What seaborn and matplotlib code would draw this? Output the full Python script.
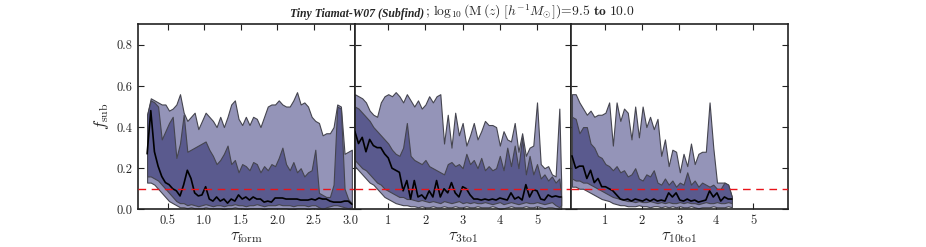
import numpy as np
import pandas as pd
import seaborn as sns
import matplotlib.pyplot as plt

# Percentile bands of f_sub vs the three formation-time measures
# (outer band = lo2..hi2, inner band = lo1..hi1, black line = median)

x_form = [0.22, 0.27, 0.32, 0.37, 0.42, 0.47, 0.52, 0.57, 0.62, 0.67,
          0.72, 0.77, 0.82, 0.87, 0.92, 0.97, 1.02, 1.07, 1.12, 1.17,
          1.22, 1.27, 1.32, 1.37, 1.42, 1.47, 1.52, 1.57, 1.62, 1.67,
          1.72, 1.77, 1.82, 1.87, 1.92, 1.97, 2.02, 2.07, 2.12, 2.17,
          2.22, 2.27, 2.32, 2.37, 2.42, 2.47, 2.52, 2.57, 2.62, 2.67,
          2.72, 2.77, 2.82, 2.87, 2.92, 2.97, 3.02]
form_hi2 = [0.46, 0.54, 0.53, 0.52, 0.51, 0.51, 0.48, 0.49, 0.51, 0.56,
            0.47, 0.43, 0.45, 0.47, 0.39, 0.43, 0.47, 0.45, 0.43, 0.40,
            0.45, 0.40, 0.45, 0.51, 0.53, 0.44, 0.41, 0.45, 0.41, 0.45,
            0.44, 0.40, 0.45, 0.50, 0.51, 0.51, 0.53, 0.51, 0.50, 0.50,
            0.53, 0.57, 0.51, 0.52, 0.50, 0.45, 0.43, 0.42, 0.36, 0.37,
            0.37, 0.40, 0.51, 0.50, 0.27, 0.28, 0.29]
form_hi1 = [0.46, 0.53, 0.52, 0.50, 0.34, 0.38, 0.42, 0.45, 0.25, 0.32,
            0.46, 0.28, 0.29, 0.30, 0.31, 0.32, 0.33, 0.29, 0.26, 0.22,
            0.24, 0.27, 0.31, 0.22, 0.24, 0.18, 0.22, 0.21, 0.19, 0.23,
            0.22, 0.18, 0.21, 0.19, 0.22, 0.21, 0.25, 0.30, 0.22, 0.19,
            0.23, 0.18, 0.20, 0.16, 0.18, 0.19, 0.29, 0.08, 0.07, 0.06,
            0.06, 0.12, 0.50, 0.49, 0.10, 0.05, 0.03]
form_med = [0.27, 0.48, 0.28, 0.21, 0.16, 0.13, 0.12, 0.10, 0.09, 0.065,
            0.12, 0.19, 0.15, 0.08, 0.065, 0.07, 0.11, 0.05, 0.04, 0.06,
            0.04, 0.05, 0.03, 0.05, 0.04, 0.07, 0.05, 0.06, 0.045, 0.06,
            0.05, 0.05, 0.035, 0.04, 0.035, 0.055, 0.055, 0.055, 0.05, 0.05,
            0.05, 0.05, 0.045, 0.045, 0.045, 0.05, 0.045, 0.055, 0.05, 0.05,
            0.04, 0.035, 0.035, 0.035, 0.04, 0.04, 0.025]
form_lo1 = [0.16, 0.16, 0.15, 0.14, 0.12, 0.10, 0.08, 0.06, 0.04, 0.03,
            0.03, 0.02, 0.025, 0.02, 0.015, 0.02, 0.025, 0.02, 0.015, 0.02,
            0.02, 0.015, 0.02, 0.02, 0.025, 0.02, 0.02, 0.015, 0.02, 0.02,
            0.025, 0.02, 0.015, 0.02, 0.02, 0.02, 0.025, 0.02, 0.02, 0.02,
            0.015, 0.02, 0.02, 0.02, 0.015, 0.02, 0.02, 0.01, 0.0, 0.01,
            0.015, 0.02, 0.02, 0.015, 0.01, 0.005, 0.01]
form_lo2 = [0.13, 0.13, 0.12, 0.10, 0.08, 0.06, 0.04, 0.03, 0.02, 0.01,
            0.01, 0.005, 0.01, 0.005, 0.005, 0.005, 0.01, 0.005, 0.005, 0.005,
            0.005, 0.0, 0.005, 0.005, 0.01, 0.005, 0.005, 0.0, 0.005, 0.005,
            0.005, 0.005, 0.0, 0.005, 0.005, 0.005, 0.005, 0.005, 0.005, 0.0,
            0.0, 0.005, 0.005, 0.005, 0.0, 0.005, 0.005, 0.0, 0.0, 0.0,
            0.005, 0.005, 0.005, 0.005, 0.0, 0.0, 0.0]

x_3to1 = [0.1, 0.2, 0.3, 0.4, 0.5, 0.6, 0.7, 0.8, 0.9, 1.0,
          1.1, 1.2, 1.3, 1.4, 1.5, 1.6, 1.7, 1.8, 1.9, 2.0,
          2.1, 2.2, 2.3, 2.4, 2.5, 2.6, 2.7, 2.8, 2.9, 3.0,
          3.1, 3.2, 3.3, 3.4, 3.5, 3.6, 3.7, 3.8, 3.9, 4.0,
          4.1, 4.2, 4.3, 4.4, 4.5, 4.6, 4.7, 4.8, 4.9, 5.0,
          5.1, 5.2, 5.3, 5.4, 5.5, 5.6, 5.65]
c3_hi2 = [0.56, 0.55, 0.54, 0.52, 0.48, 0.46, 0.45, 0.52, 0.55, 0.56,
          0.55, 0.57, 0.55, 0.52, 0.56, 0.53, 0.50, 0.53, 0.49, 0.51,
          0.55, 0.52, 0.55, 0.56, 0.32, 0.46, 0.30, 0.47, 0.36, 0.42,
          0.31, 0.36, 0.42, 0.34, 0.38, 0.43, 0.41, 0.41, 0.40, 0.31,
          0.38, 0.34, 0.33, 0.42, 0.28, 0.37, 0.26, 0.30, 0.31, 0.52,
          0.22, 0.20, 0.21, 0.17, 0.16, 0.49, 0.13]
c3_hi1 = [0.50, 0.49, 0.47, 0.45, 0.43, 0.40, 0.38, 0.36, 0.34, 0.32,
          0.29, 0.27, 0.26, 0.30, 0.42, 0.26, 0.24, 0.23, 0.22, 0.24,
          0.21, 0.20, 0.19, 0.18, 0.17, 0.22, 0.23, 0.21, 0.22, 0.20,
          0.27, 0.22, 0.24, 0.20, 0.25, 0.19, 0.21, 0.19, 0.20, 0.26,
          0.19, 0.30, 0.21, 0.31, 0.20, 0.35, 0.17, 0.26, 0.17, 0.22,
          0.15, 0.17, 0.14, 0.16, 0.13, 0.15, 0.06]
c3_med = [0.38, 0.32, 0.35, 0.28, 0.34, 0.31, 0.30, 0.30, 0.27, 0.25,
          0.20, 0.19, 0.18, 0.09, 0.14, 0.05, 0.14, 0.06, 0.07, 0.05,
          0.09, 0.06, 0.14, 0.06, 0.10, 0.08, 0.13, 0.08, 0.06, 0.11,
          0.10, 0.07, 0.05, 0.05, 0.045, 0.05, 0.045, 0.05, 0.045, 0.055,
          0.05, 0.045, 0.08, 0.05, 0.06, 0.045, 0.12, 0.06, 0.095, 0.09,
          0.05, 0.045, 0.07, 0.06, 0.065, 0.06, 0.06]
c3_lo1 = [0.24, 0.22, 0.20, 0.19, 0.17, 0.15, 0.13, 0.12, 0.10, 0.09,
          0.08, 0.07, 0.06, 0.06, 0.05, 0.05, 0.045, 0.04, 0.045, 0.04,
          0.035, 0.04, 0.035, 0.03, 0.04, 0.035, 0.03, 0.035, 0.04, 0.03,
          0.035, 0.03, 0.035, 0.03, 0.03, 0.035, 0.03, 0.025, 0.03, 0.035,
          0.025, 0.03, 0.035, 0.03, 0.025, 0.03, 0.035, 0.03, 0.03, 0.035,
          0.03, 0.025, 0.03, 0.035, 0.02, 0.01, 0.02]
c3_lo2 = [0.21, 0.19, 0.17, 0.15, 0.13, 0.12, 0.10, 0.08, 0.06, 0.05,
          0.04, 0.03, 0.025, 0.02, 0.02, 0.015, 0.015, 0.01, 0.015, 0.01,
          0.01, 0.015, 0.01, 0.01, 0.015, 0.01, 0.01, 0.015, 0.01, 0.01,
          0.015, 0.01, 0.01, 0.015, 0.01, 0.01, 0.01, 0.015, 0.01, 0.0,
          0.005, 0.01, 0.015, 0.01, 0.01, 0.01, 0.015, 0.01, 0.01, 0.015,
          0.01, 0.005, 0.01, 0.01, 0.005, 0.0, 0.0]

x_10to1 = [0.12, 0.22, 0.32, 0.42, 0.52, 0.62, 0.72, 0.82, 0.92, 1.02,
           1.12, 1.22, 1.32, 1.42, 1.52, 1.62, 1.72, 1.82, 1.92, 2.02,
           2.12, 2.22, 2.32, 2.42, 2.52, 2.62, 2.72, 2.82, 2.92, 3.02,
           3.12, 3.22, 3.32, 3.42, 3.52, 3.62, 3.72, 3.82, 3.92, 4.02,
           4.12, 4.22, 4.32, 4.42]
c10_hi2 = [0.56, 0.56, 0.52, 0.49, 0.46, 0.48, 0.45, 0.46, 0.46, 0.47,
           0.52, 0.31, 0.52, 0.43, 0.49, 0.47, 0.34, 0.50, 0.35, 0.50,
           0.40, 0.45, 0.39, 0.44, 0.26, 0.34, 0.21, 0.29, 0.28, 0.18,
           0.27, 0.21, 0.32, 0.22, 0.27, 0.28, 0.28, 0.52, 0.30, 0.13,
           0.13, 0.13, 0.12, 0.06]
c10_hi1 = [0.45, 0.44, 0.37, 0.40, 0.40, 0.32, 0.30, 0.26, 0.25, 0.22,
           0.21, 0.19, 0.21, 0.18, 0.19, 0.16, 0.17, 0.20, 0.15, 0.14,
           0.17, 0.16, 0.19, 0.13, 0.12, 0.15, 0.12, 0.14, 0.11, 0.13,
           0.12, 0.18, 0.12, 0.14, 0.11, 0.13, 0.12, 0.11, 0.12, 0.10,
           0.10, 0.13, 0.12, 0.06]
c10_med = [0.26, 0.20, 0.21, 0.21, 0.15, 0.19, 0.13, 0.15, 0.11, 0.11,
           0.10, 0.09, 0.07, 0.05, 0.045, 0.05, 0.04, 0.05, 0.045, 0.04,
           0.05, 0.04, 0.05, 0.04, 0.045, 0.04, 0.08, 0.06, 0.08, 0.045,
           0.04, 0.05, 0.04, 0.045, 0.035, 0.04, 0.045, 0.09, 0.06, 0.08,
           0.04, 0.06, 0.05, 0.05]
c10_lo1 = [0.15, 0.14, 0.14, 0.13, 0.13, 0.12, 0.11, 0.10, 0.09, 0.08,
           0.07, 0.06, 0.055, 0.05, 0.045, 0.04, 0.04, 0.035, 0.04, 0.035,
           0.035, 0.04, 0.035, 0.03, 0.035, 0.03, 0.035, 0.03, 0.03, 0.035,
           0.03, 0.035, 0.03, 0.03, 0.025, 0.03, 0.035, 0.03, 0.03, 0.035,
           0.03, 0.03, 0.035, 0.03]
c10_lo2 = [0.11, 0.11, 0.10, 0.10, 0.09, 0.08, 0.07, 0.06, 0.05, 0.045,
           0.04, 0.03, 0.025, 0.02, 0.02, 0.015, 0.015, 0.015, 0.02, 0.015,
           0.015, 0.01, 0.015, 0.015, 0.01, 0.015, 0.01, 0.015, 0.01, 0.015,
           0.01, 0.01, 0.015, 0.01, 0.005, 0.01, 0.01, 0.01, 0.015, 0.01,
           0.01, 0.01, 0.015, 0.01]

f_threshold = 0.1
x_labels = [r'$\tau_{\rm form}$', r'$\tau_{\rm 3to1}$', r'$\tau_{\rm 10to1}$']
x_ticks = [[0.5, 1.0, 1.5, 2.0, 2.5, 3.0], [1, 2, 3, 4, 5], [1, 2, 3, 4, 5]]
x_limits = [(0.1, 3.06), (0.1, 5.92), (0.1, 5.92)]
y_ticks = [0.0, 0.2, 0.4, 0.6, 0.8]

# Old-school latex-ish look
sns.set_style('ticks')
plt.rcParams['font.family'] = ['cmr10', 'DejaVu Serif']
plt.rcParams['mathtext.fontset'] = 'cm'
plt.rcParams['axes.unicode_minus'] = False
plt.rcParams['axes.formatter.use_mathtext'] = True

fig, axes = plt.subplots(1, 3, figsize=(9.26, 2.47), dpi=100)
fig.subplots_adjust(left=0.1494, right=0.8506, bottom=0.1526, top=0.9016, wspace=0)

light = '#9494b8'
dark = '#5a5a8e'
edge = '#45454f'

data = [
    (x_form, form_lo2, form_lo1, form_med, form_hi1, form_hi2),
    (x_3to1, c3_lo2, c3_lo1, c3_med, c3_hi1, c3_hi2),
    (x_10to1, c10_lo2, c10_lo1, c10_med, c10_hi1, c10_hi2),
]

for i, ax in enumerate(axes):
    x, lo2, lo1, med, hi1, hi2 = data[i]
    ax.fill_between(x, lo2, hi2, facecolor=light, edgecolor=edge, linewidth=0.8, zorder=1)
    ax.fill_between(x, lo1, hi1, facecolor=dark, edgecolor=edge, linewidth=0.8, zorder=2)
    df = pd.DataFrame({'x': x, 'med': med})
    sns.lineplot(data=df, x='x', y='med', ax=ax, color='k', linewidth=1.2, zorder=3)
    ax.axhline(f_threshold, color='#e8141a', linestyle='--', dashes=(5.5, 4), linewidth=1.0, zorder=4)

    ax.set_xlim(*x_limits[i])
    ax.set_ylim(0, 0.9)
    ax.set_xticks(x_ticks[i])
    ax.set_yticks(y_ticks)
    if i == 0:
        ax.set_xticklabels(['%.1f' % t for t in x_ticks[i]])
        ax.set_yticklabels(['%.1f' % t for t in y_ticks])
        ax.set_ylabel(r'$f_{\rm sub}$', fontsize=12, labelpad=4)
    else:
        ax.set_xticklabels(['%d' % t for t in x_ticks[i]])
        ax.tick_params(labelleft=False)
        ax.set_ylabel('')
    ax.set_xlabel(x_labels[i], fontsize=12, labelpad=2)
    ax.tick_params(direction='in', top=True, right=True, length=4, width=0.8,
                   labelsize=9, color='#222222', pad=4)
    for s in ax.spines.values():
        s.set_linewidth(1.2)
        s.set_color('#222222')

# Title in two pieces: bold italic run name + math part
fig.text(424 / 926, 1 - 16.5 / 247, 'Tiny Tiamat-W07 (Subfind)', ha='right', va='baseline',
         fontsize=8.5, fontstyle='italic', fontweight='bold', family=['Liberation Serif', 'DejaVu Serif'])
fig.text(425 / 926, 1 - 16.5 / 247,
         r'$;\,\log_{10}(\mathrm{M}\,(z)\;[h^{-1}M_{\odot}])\!=\!9.5\ \mathbf{to}\ 10.0$',
         ha='left', va='baseline', fontsize=9.8)

plt.savefig('out.png', dpi=100)
